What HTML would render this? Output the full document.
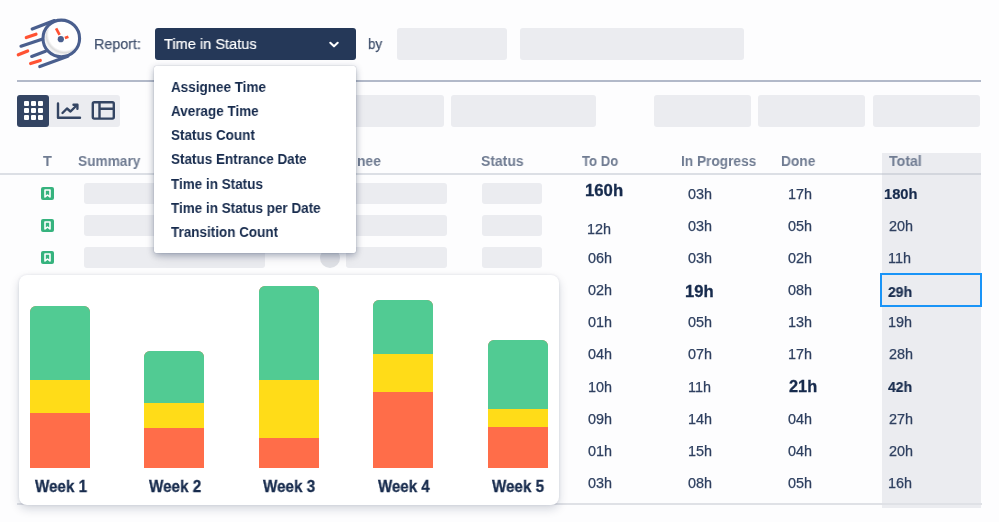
<!DOCTYPE html><html><head><meta charset="utf-8"><style>
html,body{margin:0;padding:0;}
body{width:999px;height:522px;overflow:hidden;background:#fdfdfe;position:relative;font-family:"Liberation Sans",sans-serif;}
.t{position:absolute;line-height:1;white-space:nowrap;transform-origin:0 0;will-change:transform;}
.b{position:absolute;}
svg{position:absolute;}
</style></head><body>
<svg style="left:0;top:0" width="100" height="80" viewBox="0 0 100 80">
<defs><radialGradient id="face" cx="0.6" cy="0.37" r="0.62"><stop offset="0.78" stop-color="#ffffff"/><stop offset="0.9" stop-color="#dcdcdc"/><stop offset="1" stop-color="#f4f4f4"/></radialGradient></defs>
<circle cx="61.3" cy="38.6" r="16.4" fill="url(#face)"/>
<g stroke-linecap="round" fill="none" stroke-width="3.2">
<path d="M32.2 29 L54.4 20.6" stroke="#4a5f8e"/>
<path d="M21 46.2 L42 39.2" stroke="#4a5f8e"/>
<path d="M31.7 56.4 L45.5 51.3" stroke="#4a5f8e"/>
<path d="M39.8 66.6 L67.8 56.2" stroke="#4a5f8e"/>
<path d="M26.3 37.6 L36 34.2" stroke="#ff5233"/>
<path d="M18.3 54.8 L27.7 51" stroke="#ff5233"/>
<path d="M30.6 63.6 L40.3 60.4" stroke="#ff5233"/>
</g>
<circle cx="61.3" cy="38.4" r="18.3" fill="none" stroke="#4a5f8e" stroke-width="3.1"/>
<line x1="56.1" y1="28.3" x2="59.6" y2="34.9" stroke="#ff5233" stroke-width="2.7"/>
<line x1="64.9" y1="38" x2="68.4" y2="36.7" stroke="#ff5233" stroke-width="2.7"/>
<circle cx="60.8" cy="39.2" r="3.1" fill="#4a5f8e"/>
</svg>
<div class="t" style="left:94.42px;top:37.00px;font-size:14.8px;font-weight:normal;color:#42526e;transform:scaleX(0.9654);-webkit-text-stroke:0.25px #42526e;">Report:</div>
<div class="b" style="left:154.5px;top:28px;width:201.00px;height:31.50px;background:#253858;border-radius:3px;"></div>
<div class="t" style="left:164.17px;top:36.00px;font-size:15.2px;font-weight:normal;color:#ffffff;transform:scaleX(0.9601);-webkit-text-stroke:0.2px #ffffff;">Time in Status</div>
<svg style="left:328px;top:41px" width="12" height="8" viewBox="0 0 12 8"><path d="M2.3 1.8 L6 5.3 L9.7 1.8" stroke="#fff" stroke-width="2.1" fill="none" stroke-linecap="round" stroke-linejoin="round"/></svg>
<div class="t" style="left:368.33px;top:37.00px;font-size:14.8px;font-weight:normal;color:#42526e;transform:scaleX(0.9000);-webkit-text-stroke:0.25px #42526e;">by</div>
<div class="b" style="left:396.8px;top:27.5px;width:110.50px;height:32.50px;background:#ebecf0;border-radius:3px;"></div>
<div class="b" style="left:520.1px;top:27.5px;width:224.30px;height:32.50px;background:#ebecf0;border-radius:3px;"></div>
<div class="b" style="left:17px;top:80.1px;width:964.00px;height:1.80px;background:#b2b9c9;border-radius:0px;"></div>
<div class="b" style="left:17.2px;top:94.7px;width:103.00px;height:32.00px;background:#ebecf0;border-radius:3px;"></div>
<div class="b" style="left:17.2px;top:94.7px;width:32.00px;height:32.00px;background:#344563;border-radius:3px;"></div>
<div class="b" style="left:24.2px;top:101.2px;width:4.80px;height:4.80px;background:#ffffff;border-radius:1px;"></div>
<div class="b" style="left:24.2px;top:108.3px;width:4.80px;height:4.80px;background:#ffffff;border-radius:1px;"></div>
<div class="b" style="left:24.2px;top:115.4px;width:4.80px;height:4.80px;background:#ffffff;border-radius:1px;"></div>
<div class="b" style="left:31.299999999999997px;top:101.2px;width:4.80px;height:4.80px;background:#ffffff;border-radius:1px;"></div>
<div class="b" style="left:31.299999999999997px;top:108.3px;width:4.80px;height:4.80px;background:#ffffff;border-radius:1px;"></div>
<div class="b" style="left:31.299999999999997px;top:115.4px;width:4.80px;height:4.80px;background:#ffffff;border-radius:1px;"></div>
<div class="b" style="left:38.4px;top:101.2px;width:4.80px;height:4.80px;background:#ffffff;border-radius:1px;"></div>
<div class="b" style="left:38.4px;top:108.3px;width:4.80px;height:4.80px;background:#ffffff;border-radius:1px;"></div>
<div class="b" style="left:38.4px;top:115.4px;width:4.80px;height:4.80px;background:#ffffff;border-radius:1px;"></div>
<svg style="left:50px;top:95px" width="40" height="32" viewBox="50 95 40 32"><g fill="none" stroke="#344563" stroke-width="2.4" stroke-linecap="round" stroke-linejoin="round"><path d="M58 103.5 V117.8 H80"/><path d="M62.5 113 L67 108.5 L70.5 111.5 L77 105"/><path d="M73.5 104.8 H77.4 V108.7"/></g></svg>
<svg style="left:88px;top:97px" width="32" height="28" viewBox="88 97 32 28"><g fill="none" stroke="#344563" stroke-width="2.4" stroke-linejoin="round"><rect x="92.8" y="102.2" width="21" height="16.4" rx="1.5"/><path d="M99.5 102.2 V118.6 M99.5 108.8 H113.8"/></g></svg>
<div class="b" style="left:300px;top:94.6px;width:144.00px;height:32.20px;background:#ebecf0;border-radius:3px;"></div>
<div class="b" style="left:451.3px;top:94.6px;width:144.90px;height:32.20px;background:#ebecf0;border-radius:3px;"></div>
<div class="b" style="left:654.4px;top:94.6px;width:96.30px;height:32.20px;background:#ebecf0;border-radius:3px;"></div>
<div class="b" style="left:757.9px;top:94.6px;width:107.40px;height:32.20px;background:#ebecf0;border-radius:3px;"></div>
<div class="b" style="left:872.5px;top:94.6px;width:107.50px;height:32.20px;background:#ebecf0;border-radius:3px;"></div>
<div class="b" style="left:881.6px;top:152.6px;width:99.70px;height:355.00px;background:#ebecf0;border-radius:0px;"></div>
<div class="t" style="left:42.63px;top:154.00px;font-size:14.5px;font-weight:bold;color:#707c92;transform:scaleX(0.9626);">T</div>
<div class="t" style="left:77.69px;top:154.00px;font-size:14.5px;font-weight:bold;color:#707c92;transform:scaleX(0.9439);">Summary</div>
<div class="t" style="left:481.48px;top:154.00px;font-size:14.5px;font-weight:bold;color:#707c92;transform:scaleX(0.9611);">Status</div>
<div class="t" style="left:582.34px;top:154.00px;font-size:14.5px;font-weight:bold;color:#707c92;transform:scaleX(0.9043);">To Do</div>
<div class="t" style="left:681.08px;top:154.00px;font-size:14.5px;font-weight:bold;color:#707c92;transform:scaleX(0.9426);">In Progress</div>
<div class="t" style="left:781.07px;top:154.00px;font-size:14.5px;font-weight:bold;color:#707c92;transform:scaleX(0.9483);">Done</div>
<div class="t" style="left:888.72px;top:154.00px;font-size:14.5px;font-weight:bold;color:#707c92;transform:scaleX(0.9762);">Total</div>
<div class="t" style="left:357.30px;top:154.00px;font-size:14.5px;font-weight:bold;color:#707c92;transform:scaleX(0.9549);">nee</div>
<div class="b" style="left:0px;top:173.4px;width:881.60px;height:1.60px;background:#dcdfe5;border-radius:0px;"></div>
<div class="b" style="left:881.6px;top:173.4px;width:99.70px;height:1.60px;background:#d3d6dd;border-radius:0px;"></div>
<svg style="left:41px;top:187.0px" width="13" height="13" viewBox="0 0 13 13"><rect width="13" height="13" rx="2" fill="#36b37e"/><path d="M4 3 H9 V10 L6.5 8 L4 10 Z" fill="none" stroke="#fff" stroke-width="1.6" stroke-linejoin="round"/></svg>
<div class="b" style="left:84px;top:183.4px;width:181.00px;height:20.20px;background:#ebecf0;border-radius:3px;"></div>
<div class="b" style="left:346.3px;top:183.4px;width:100.50px;height:20.20px;background:#ebecf0;border-radius:3px;"></div>
<div class="b" style="left:481.9px;top:183.4px;width:60.20px;height:20.20px;background:#ebecf0;border-radius:3px;"></div>
<svg style="left:41px;top:219.0px" width="13" height="13" viewBox="0 0 13 13"><rect width="13" height="13" rx="2" fill="#36b37e"/><path d="M4 3 H9 V10 L6.5 8 L4 10 Z" fill="none" stroke="#fff" stroke-width="1.6" stroke-linejoin="round"/></svg>
<div class="b" style="left:84px;top:215.4px;width:181.00px;height:20.20px;background:#ebecf0;border-radius:3px;"></div>
<div class="b" style="left:346.3px;top:215.4px;width:100.50px;height:20.20px;background:#ebecf0;border-radius:3px;"></div>
<div class="b" style="left:481.9px;top:215.4px;width:60.20px;height:20.20px;background:#ebecf0;border-radius:3px;"></div>
<svg style="left:41px;top:251.0px" width="13" height="13" viewBox="0 0 13 13"><rect width="13" height="13" rx="2" fill="#36b37e"/><path d="M4 3 H9 V10 L6.5 8 L4 10 Z" fill="none" stroke="#fff" stroke-width="1.6" stroke-linejoin="round"/></svg>
<div class="b" style="left:84px;top:247.4px;width:181.00px;height:20.20px;background:#ebecf0;border-radius:3px;"></div>
<div class="b" style="left:346.3px;top:247.4px;width:100.50px;height:20.20px;background:#ebecf0;border-radius:3px;"></div>
<div class="b" style="left:481.9px;top:247.4px;width:60.20px;height:20.20px;background:#ebecf0;border-radius:3px;"></div>
<div class="b" style="left:319.8px;top:248px;width:20px;height:20px;border-radius:50%;background:#dfe1e6"></div>
<div class="t" style="left:584.65px;top:182.00px;font-size:16.2px;font-weight:bold;color:#172b4d;transform:scaleX(1.0341);-webkit-text-stroke:0.3px #172b4d;">160h</div>
<div class="t" style="left:688.02px;top:187.00px;font-size:14.4px;font-weight:normal;color:#2f4060;-webkit-text-stroke:0.25px #2f4060;">03h</div>
<div class="t" style="left:787.82px;top:187.00px;font-size:14.4px;font-weight:normal;color:#2f4060;-webkit-text-stroke:0.25px #2f4060;">17h</div>
<div class="t" style="left:884.48px;top:187.00px;font-size:14.6px;font-weight:bold;color:#172b4d;transform:scaleX(1.0044);-webkit-text-stroke:0.2px #172b4d;">180h</div>
<div class="t" style="left:586.52px;top:222.00px;font-size:14.4px;font-weight:normal;color:#2f4060;-webkit-text-stroke:0.25px #2f4060;">12h</div>
<div class="t" style="left:688.02px;top:219.00px;font-size:14.4px;font-weight:normal;color:#2f4060;-webkit-text-stroke:0.25px #2f4060;">03h</div>
<div class="t" style="left:788.32px;top:219.00px;font-size:14.4px;font-weight:normal;color:#2f4060;-webkit-text-stroke:0.25px #2f4060;">05h</div>
<div class="t" style="left:888.58px;top:219.00px;font-size:14.4px;font-weight:normal;color:#2f4060;-webkit-text-stroke:0.25px #2f4060;">20h</div>
<div class="t" style="left:588.22px;top:251.00px;font-size:14.4px;font-weight:normal;color:#2f4060;-webkit-text-stroke:0.25px #2f4060;">06h</div>
<div class="t" style="left:688.02px;top:251.00px;font-size:14.4px;font-weight:normal;color:#2f4060;-webkit-text-stroke:0.25px #2f4060;">03h</div>
<div class="t" style="left:788.32px;top:251.00px;font-size:14.4px;font-weight:normal;color:#2f4060;-webkit-text-stroke:0.25px #2f4060;">02h</div>
<div class="t" style="left:888.22px;top:251.00px;font-size:14.4px;font-weight:normal;color:#2f4060;-webkit-text-stroke:0.25px #2f4060;">11h</div>
<div class="t" style="left:588.22px;top:283.00px;font-size:14.4px;font-weight:normal;color:#2f4060;-webkit-text-stroke:0.25px #2f4060;">02h</div>
<div class="t" style="left:685.36px;top:283.00px;font-size:16.2px;font-weight:bold;color:#172b4d;transform:scaleX(1.0262);-webkit-text-stroke:0.3px #172b4d;">19h</div>
<div class="t" style="left:788.32px;top:283.00px;font-size:14.4px;font-weight:normal;color:#2f4060;-webkit-text-stroke:0.25px #2f4060;">08h</div>
<div class="t" style="left:888.11px;top:285.00px;font-size:14.6px;font-weight:bold;color:#172b4d;transform:scaleX(0.9600);-webkit-text-stroke:0.2px #172b4d;">29h</div>
<div class="t" style="left:588.22px;top:315.00px;font-size:14.4px;font-weight:normal;color:#2f4060;-webkit-text-stroke:0.25px #2f4060;">01h</div>
<div class="t" style="left:688.02px;top:315.00px;font-size:14.4px;font-weight:normal;color:#2f4060;-webkit-text-stroke:0.25px #2f4060;">05h</div>
<div class="t" style="left:787.82px;top:315.00px;font-size:14.4px;font-weight:normal;color:#2f4060;-webkit-text-stroke:0.25px #2f4060;">13h</div>
<div class="t" style="left:888.22px;top:315.00px;font-size:14.4px;font-weight:normal;color:#2f4060;-webkit-text-stroke:0.25px #2f4060;">19h</div>
<div class="t" style="left:588.22px;top:347.00px;font-size:14.4px;font-weight:normal;color:#2f4060;-webkit-text-stroke:0.25px #2f4060;">04h</div>
<div class="t" style="left:688.02px;top:347.00px;font-size:14.4px;font-weight:normal;color:#2f4060;-webkit-text-stroke:0.25px #2f4060;">07h</div>
<div class="t" style="left:787.82px;top:347.00px;font-size:14.4px;font-weight:normal;color:#2f4060;-webkit-text-stroke:0.25px #2f4060;">17h</div>
<div class="t" style="left:888.58px;top:347.00px;font-size:14.4px;font-weight:normal;color:#2f4060;-webkit-text-stroke:0.25px #2f4060;">28h</div>
<div class="t" style="left:587.72px;top:380.00px;font-size:14.4px;font-weight:normal;color:#2f4060;-webkit-text-stroke:0.25px #2f4060;">10h</div>
<div class="t" style="left:687.52px;top:380.00px;font-size:14.4px;font-weight:normal;color:#2f4060;-webkit-text-stroke:0.25px #2f4060;">11h</div>
<div class="t" style="left:788.73px;top:378.00px;font-size:16.2px;font-weight:bold;color:#172b4d;transform:scaleX(1.0089);-webkit-text-stroke:0.3px #172b4d;">21h</div>
<div class="t" style="left:888.39px;top:380.00px;font-size:14.6px;font-weight:bold;color:#172b4d;transform:scaleX(0.9600);-webkit-text-stroke:0.2px #172b4d;">42h</div>
<div class="t" style="left:588.22px;top:412.00px;font-size:14.4px;font-weight:normal;color:#2f4060;-webkit-text-stroke:0.25px #2f4060;">09h</div>
<div class="t" style="left:687.52px;top:412.00px;font-size:14.4px;font-weight:normal;color:#2f4060;-webkit-text-stroke:0.25px #2f4060;">14h</div>
<div class="t" style="left:788.32px;top:412.00px;font-size:14.4px;font-weight:normal;color:#2f4060;-webkit-text-stroke:0.25px #2f4060;">04h</div>
<div class="t" style="left:888.58px;top:412.00px;font-size:14.4px;font-weight:normal;color:#2f4060;-webkit-text-stroke:0.25px #2f4060;">27h</div>
<div class="t" style="left:588.22px;top:444.00px;font-size:14.4px;font-weight:normal;color:#2f4060;-webkit-text-stroke:0.25px #2f4060;">01h</div>
<div class="t" style="left:687.52px;top:444.00px;font-size:14.4px;font-weight:normal;color:#2f4060;-webkit-text-stroke:0.25px #2f4060;">15h</div>
<div class="t" style="left:788.32px;top:444.00px;font-size:14.4px;font-weight:normal;color:#2f4060;-webkit-text-stroke:0.25px #2f4060;">04h</div>
<div class="t" style="left:888.58px;top:444.00px;font-size:14.4px;font-weight:normal;color:#2f4060;-webkit-text-stroke:0.25px #2f4060;">20h</div>
<div class="t" style="left:588.22px;top:476.00px;font-size:14.4px;font-weight:normal;color:#2f4060;-webkit-text-stroke:0.25px #2f4060;">03h</div>
<div class="t" style="left:688.02px;top:476.00px;font-size:14.4px;font-weight:normal;color:#2f4060;-webkit-text-stroke:0.25px #2f4060;">08h</div>
<div class="t" style="left:788.32px;top:476.00px;font-size:14.4px;font-weight:normal;color:#2f4060;-webkit-text-stroke:0.25px #2f4060;">05h</div>
<div class="t" style="left:888.22px;top:476.00px;font-size:14.4px;font-weight:normal;color:#2f4060;-webkit-text-stroke:0.25px #2f4060;">16h</div>
<div class="b" style="left:880.1px;top:272.9px;width:98.3px;height:29.9px;border:2px solid #1a94f7;"></div>
<div class="b" style="left:17px;top:503px;width:964.60px;height:1.50px;background:#dfe1e6;border-radius:0px;"></div>
<div class="b" style="left:18.8px;top:274.6px;width:540.4px;height:230.6px;background:#ffffff;border-radius:8px;box-shadow:0 4px 10px rgba(9,30,66,0.17), 0 0 3px rgba(9,30,66,0.10);"></div>
<div class="b" style="left:30.0px;top:305.5px;width:60px;height:162.20px;border-radius:6px 6px 0 0;overflow:hidden;background:#ff6d49"><div style="position:absolute;left:0;top:0;width:100%;height:74.70px;background:#51cb93"></div><div style="position:absolute;left:0;top:74.70px;width:100%;height:32.50px;background:#ffdc18"></div></div>
<div class="t" style="left:34.66px;top:479.00px;font-size:16.8px;font-weight:bold;color:#172b4d;transform:scaleX(0.9040);-webkit-text-stroke:0.3px #172b4d;">Week 1</div>
<div class="b" style="left:144.2px;top:350.5px;width:60px;height:117.20px;border-radius:6px 6px 0 0;overflow:hidden;background:#ff6d49"><div style="position:absolute;left:0;top:0;width:100%;height:52.50px;background:#51cb93"></div><div style="position:absolute;left:0;top:52.50px;width:100%;height:24.50px;background:#ffdc18"></div></div>
<div class="t" style="left:149.36px;top:479.00px;font-size:16.8px;font-weight:bold;color:#172b4d;transform:scaleX(0.9074);-webkit-text-stroke:0.3px #172b4d;">Week 2</div>
<div class="b" style="left:259.1px;top:286.1px;width:60px;height:181.60px;border-radius:6px 6px 0 0;overflow:hidden;background:#ff6d49"><div style="position:absolute;left:0;top:0;width:100%;height:94.30px;background:#51cb93"></div><div style="position:absolute;left:0;top:94.30px;width:100%;height:57.80px;background:#ffdc18"></div></div>
<div class="t" style="left:263.06px;top:479.00px;font-size:16.8px;font-weight:bold;color:#172b4d;transform:scaleX(0.9060);-webkit-text-stroke:0.3px #172b4d;">Week 3</div>
<div class="b" style="left:373.4px;top:299.9px;width:60px;height:167.80px;border-radius:6px 6px 0 0;overflow:hidden;background:#ff6d49"><div style="position:absolute;left:0;top:0;width:100%;height:53.70px;background:#51cb93"></div><div style="position:absolute;left:0;top:53.70px;width:100%;height:38.30px;background:#ffdc18"></div></div>
<div class="t" style="left:377.56px;top:479.00px;font-size:16.8px;font-weight:bold;color:#172b4d;transform:scaleX(0.8981);-webkit-text-stroke:0.3px #172b4d;">Week 4</div>
<div class="b" style="left:487.6px;top:340.2px;width:60px;height:127.50px;border-radius:6px 6px 0 0;overflow:hidden;background:#ff6d49"><div style="position:absolute;left:0;top:0;width:100%;height:68.90px;background:#51cb93"></div><div style="position:absolute;left:0;top:68.90px;width:100%;height:18.40px;background:#ffdc18"></div></div>
<div class="t" style="left:492.06px;top:479.00px;font-size:16.8px;font-weight:bold;color:#172b4d;transform:scaleX(0.9040);-webkit-text-stroke:0.3px #172b4d;">Week 5</div>
<div class="b" style="left:154px;top:65.6px;width:201.8px;height:187px;background:#ffffff;border-radius:2px;box-shadow:0 0 1px rgba(9,30,66,0.4), 0 2px 7px rgba(9,30,66,0.30), 0 6px 12px -3px rgba(9,30,66,0.14);"></div>
<div class="t" style="left:170.66px;top:80.00px;font-size:14.7px;font-weight:bold;color:#172b4d;transform:scaleX(0.9180);">Assignee Time</div>
<div class="t" style="left:170.66px;top:104.00px;font-size:14.7px;font-weight:bold;color:#172b4d;transform:scaleX(0.9180);">Average Time</div>
<div class="t" style="left:170.60px;top:128.00px;font-size:14.7px;font-weight:bold;color:#172b4d;transform:scaleX(0.9180);">Status Count</div>
<div class="t" style="left:170.60px;top:152.00px;font-size:14.7px;font-weight:bold;color:#172b4d;transform:scaleX(0.9180);">Status Entrance Date</div>
<div class="t" style="left:170.83px;top:177.00px;font-size:14.7px;font-weight:bold;color:#172b4d;transform:scaleX(0.9180);">Time in Status</div>
<div class="t" style="left:170.83px;top:201.00px;font-size:14.7px;font-weight:bold;color:#172b4d;transform:scaleX(0.9180);">Time in Status per Date</div>
<div class="t" style="left:170.83px;top:225.00px;font-size:14.7px;font-weight:bold;color:#172b4d;transform:scaleX(0.9180);">Transition Count</div>
</body></html>
